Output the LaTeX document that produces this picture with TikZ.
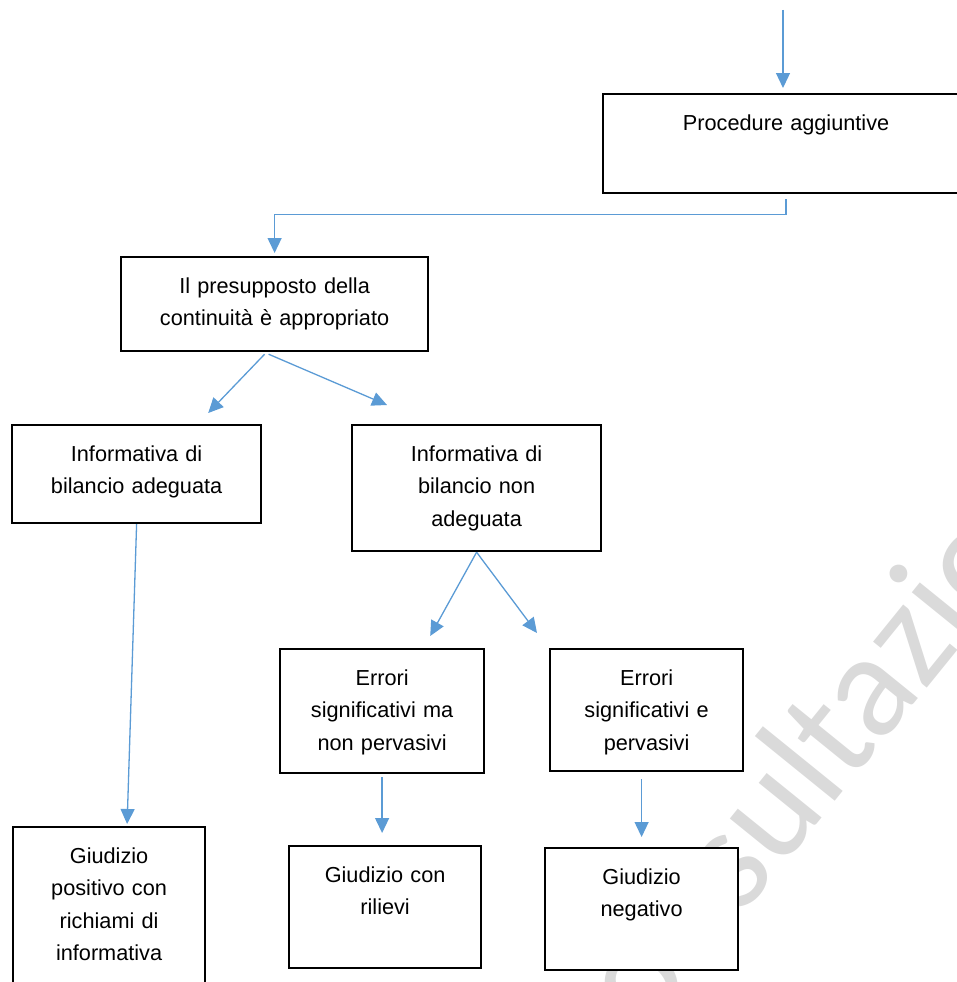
\documentclass[tikz,border=0pt]{standalone}
\usepackage{fontspec}
\setmainfont{Liberation Sans}
\newfontfamily\wmfont{Carlito}
\usepackage{tikz}
\usetikzlibrary{arrows.meta, positioning}
\definecolor{flowblue}{RGB}{91, 155, 213}
\definecolor{wmgray}{RGB}{218, 218, 218}

\begin{document}
\begin{tikzpicture}[
    x=1pt, y=-1pt,
    font=\fontsize{21.7}{32.5}\selectfont,
    box/.style={draw, fill=white, line width=2.2pt, inner sep=0pt, anchor=north west, align=center, text height=36pt},
    flow/.style={-{Triangle[length=15pt, width=14pt]}, line width=1.3pt, flowblue},
    wmark/.style={wmgray, font=\wmfont\fontsize{148}{148}\selectfont, inner sep=0pt},
]
\useasboundingbox (0,0) rectangle (957,982);
\clip (0,0) rectangle (957,982);

% --- watermark behind everything ---
\node[wmark, rotate=51, anchor=base west] (wm) at (606,1084) {consultazione};

% --- boxes, top-left corner at the given point ---
\node[box, text width=366pt, text depth=63pt] (proc) at (602,93) {Procedure aggiuntive};
\node[box, text width=307pt, text depth=58pt] (pres) at (120,256) {Il presupposto della\\continuità è appropriato};
\node[box, text width=249pt, text depth=62pt] (adeg) at (11,424) {Informativa di\\bilancio adeguata};
\node[box, text width=249pt, text depth=90pt] (nonad) at (351,424) {Informativa di\\bilancio non\\adeguata};
\node[box, text width=204pt, text depth=88pt] (errma) at (279,648) {Errori\\significativi ma\\non pervasivi};
\node[box, text width=193pt, text depth=86pt] (errpv) at (549,648) {Errori\\significativi e\\pervasivi};
\node[box, text width=192pt, text depth=138pt] (giupos) at (12,826) {Giudizio\\positivo con\\richiami di\\informativa};
\node[box, text width=192pt, text depth=86pt] (giuril) at (288,845) {Giudizio con\\rilievi};
\node[box, text width=193pt, text depth=86pt] (giuneg) at (544,847) {Giudizio\\negativo};

% --- connectors ---
\coordinate (src) at (783,10);
\draw[flow, shorten >=5pt] (src) -- (src |- proc.north);
\draw[flow, shorten <=5pt, shorten >=3pt] (proc.south) -- ++(0,20) -| (pres.north);

\draw[flow] ([xshift=-10pt, yshift=-2pt]pres.south) -- ([xshift=-54pt, yshift=11pt]adeg.north east);
\draw[flow] ([xshift=-6pt, yshift=-2pt]pres.south) -- ([xshift=36pt, yshift=19pt]nonad.north west);

\draw[flow] (adeg.south) -- ([xshift=18pt, yshift=2pt]giupos.north);

\draw[flow] (nonad.south) -- ([xshift=-55pt, yshift=12pt]errma.north east);
\draw[flow] (nonad.south) -- ([xshift=-12pt, yshift=15pt]errpv.north west);

\draw[flow, shorten <=3pt, shorten >=12pt] (errma.south) -- (errma.south |- giuril.north);
\draw[flow, shorten <=7pt, shorten >=10pt] (giuneg.north |- errpv.south) -- (giuneg.north);

\end{tikzpicture}
\end{document}
